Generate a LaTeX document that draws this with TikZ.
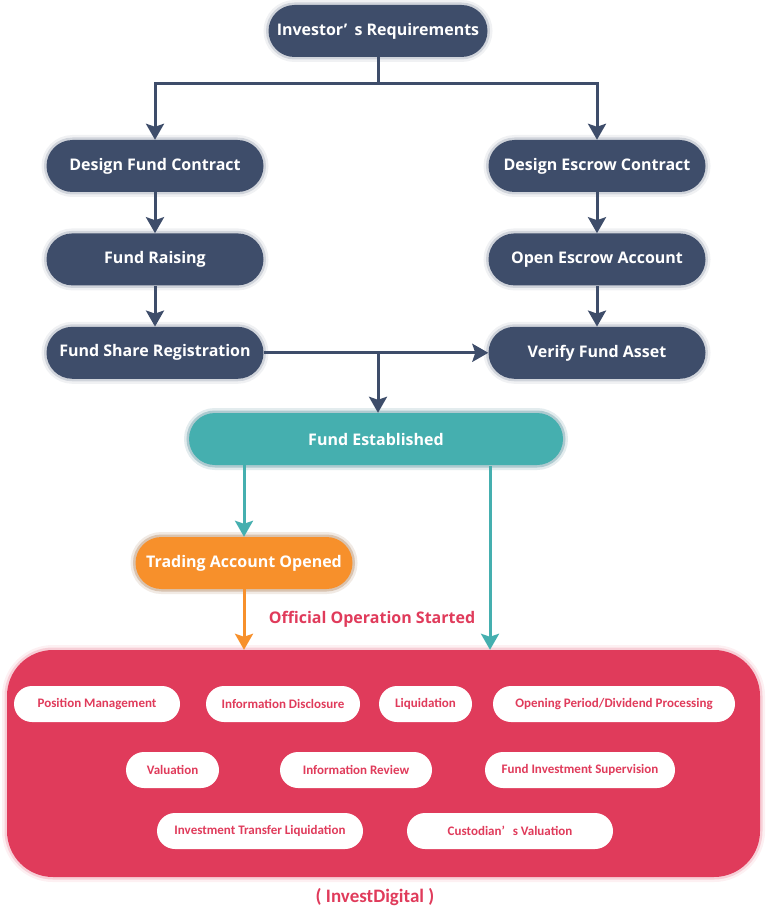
\documentclass[tikz,border=0pt]{standalone}
\usepackage{fontspec}
\setmainfont{Open Sans}
\newfontfamily\pillfont{Carlito}
\usetikzlibrary{arrows.meta,positioning}
\definecolor{navy}{HTML}{3E4D6A}
\definecolor{teal}{HTML}{45AFAF}
\definecolor{orng}{HTML}{F7902B}
\definecolor{crim}{HTML}{E03B5B}

\begin{document}
\begin{tikzpicture}[x=1pt,y=-1pt,node distance=41pt and 224pt,>={Stealth[length=16pt,width=18pt,inset=3pt]},
glow/.style={preaction={draw=#1,line width=10pt,opacity=.08},preaction={draw=#1,line width=5pt,opacity=.18}},
box/.style={glow=navy,fill=navy,text=white,font=\bfseries\fontsize{16}{18}\selectfont,rounded corners=26pt,minimum height=52pt,minimum width=217pt,align=center},
pill/.style={fill=white,text=crim,font=\pillfont\bfseries\fontsize{13}{15}\selectfont,rounded corners=18pt,minimum height=36pt,inner xsep=0pt},
line/.style={draw=#1,line width=3pt}]
\useasboundingbox (0,0) rectangle (767,909);
% upper part
\node[box,minimum width=219pt] (inv) at (378,31) {Investor’\hspace{0.45em}s Requirements};
\node[box] (dfc) at (155,166) {Design Fund Contract};
\node[box,below=of dfc] (fr) {Fund Raising};
\node[box,below=of fr] (fsr) {Fund Share Registration};
\node[box] (dec) at (597,166) {Design Escrow Contract};
\node[box,below=of dec] (oea) {Open Escrow Account};
\node[box,below=of oea] (vfa) {Verify Fund Asset};
\node[box,glow=teal,fill=teal,minimum width=374pt] (fe) at (376,439) {Fund Established};
\node[box,glow=orng,fill=orng] (tao) at (244,563) {Trading Account Opened};
\node[text=crim,font=\bfseries\fontsize{16}{18}\selectfont] (start) at (372,619) {Official Operation Started};
% operations
\node[glow=crim,fill=crim,rounded corners=46pt,minimum width=753pt,minimum height=227pt] (ops) at (383.5,763.5) {};
\node[pill,minimum width=166pt] (pm) at (97,704) {Position Management};
\node[pill,minimum width=154pt] (idis) at (283,704) {Information Disclosure};
\node[pill,minimum width=93pt] (liq) at (425.5,704) {Liquidation};
\node[pill,minimum width=242pt] (opd) at (614,704) {Opening Period/Dividend Processing};
\node[pill,minimum width=93pt] (val) at (172.5,770) {Valuation};
\node[pill,minimum width=152pt] (ir) at (356,770) {Information Review};
\node[pill,minimum width=190pt] (fis) at (580,770) {Fund Investment Supervision};
\node[pill,minimum width=206pt] (itl) at (260,831) {Investment Transfer Liquidation};
\node[pill,minimum width=206pt] (cv) at (510,831) {Custodian’\hspace{0.6em}s Valuation};
\node[text=crim,font=\pillfont\bfseries\fontsize{19}{21}\selectfont] (brand) at (375,897) {( InvestDigital )};
% connectors
\coordinate (split) at (378,84);
\draw[line=navy] (inv) -- (split);
\draw[line=navy,->] (split) -| (dfc);
\draw[line=navy,->] (split) -| (dec);
\draw[line=navy,->] (dfc) -- (fr);
\draw[line=navy,->] (fr) -- (fsr);
\draw[line=navy,->] (dec) -- (oea);
\draw[line=navy,->] (oea) -- (vfa);
\draw[line=navy,->] (fsr) -- (vfa);
\draw[line=navy,->] (split |- fsr.east) -- (split |- fe.north);
\draw[line=teal,->] (fe.south -| tao) -- (tao);
\coordinate (right) at (490,466);
\draw[line=teal,->] (right) -- (right |- ops.north);
\draw[line=orng,->] (tao) -- (tao |- ops.north);
\end{tikzpicture}
\end{document}
